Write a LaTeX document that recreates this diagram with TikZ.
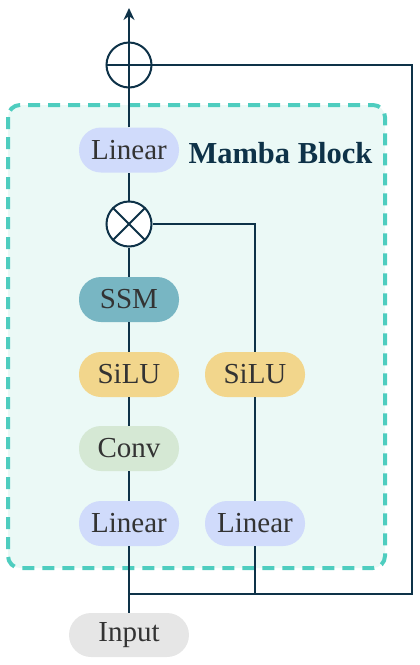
\documentclass[tikz,border=0pt]{standalone}
\usepackage{fontspec}
\setmainfont{Liberation Serif}
\usetikzlibrary{arrows.meta}
\definecolor{wire}{HTML}{0E3248}
\definecolor{dashc}{HTML}{4ECDBF}
\definecolor{boxfill}{HTML}{EBF9F6}
\definecolor{linfill}{HTML}{D0DBFB}
\definecolor{ssmfill}{HTML}{78B6C3}
\definecolor{silufill}{HTML}{F2D68C}
\definecolor{convfill}{HTML}{D5E8D4}
\definecolor{inpfill}{HTML}{E6E6E6}
\definecolor{txt}{HTML}{333333}
\begin{document}
\begin{tikzpicture}[x=1pt,y=-1pt,
  pill/.style={rectangle,rounded corners=22pt,minimum width=100pt,minimum height=45pt,inner sep=0pt,text=txt,font=\fontsize{29}{32}\selectfont},
  wirel/.style={draw=wire,line width=2pt},
  opcirc/.style={circle,draw=wire,line width=2pt,minimum size=45pt,inner sep=0pt,fill=white}]
\useasboundingbox (0,0) rectangle (420,665);
% block
\draw[dashc,line width=4pt,dash pattern=on 12pt off 8pt,fill=boxfill,rounded corners=12pt] (8,105) rectangle (385,568);
% nodes
\node[opcirc] (plus) at (129,65) {};
\node[opcirc] (times) at (129,224) {};
\node[pill,fill=linfill] (lintop) at (129,150) {Linear};
\node[font=\fontsize{30.5}{33}\selectfont\bfseries,text=wire,anchor=west] (title) at (185,153) {Mamba Block};
\node[pill,fill=ssmfill] (ssm) at (129,299.5) {SSM};
\node[pill,fill=silufill] (silul) at (129,374.5) {SiLU};
\node[pill,fill=silufill] (silur) at (255,374.5) {SiLU};
\node[pill,fill=convfill] (conv) at (129,448.5) {Conv};
\node[pill,fill=linfill] (linl) at (129,523.5) {Linear};
\node[pill,fill=linfill] (linr) at (255,523.5) {Linear};
\node[pill,fill=inpfill,minimum width=120pt,minimum height=44pt] (input) at (129,635) {Input};
\coordinate (top) at (129,8);
\coordinate (split) at (129,594);
% operator glyphs
\draw[wirel] (plus.west) -- (plus.east);
\draw[wirel] (plus.north) -- (plus.south);
\draw[wirel] (times.north west) -- (times.south east);
\draw[wirel] (times.north east) -- (times.south west);
% wires
\draw[wirel,-{Stealth[length=12pt,width=11pt]}] (plus.north) -- (top);
\draw[wirel] (lintop.north) -- (plus.south);
\draw[wirel] (times.north) -- (lintop.south);
\draw[wirel] (ssm.north) -- (times.south);
\draw[wirel] (silul.north) -- (ssm.south);
\draw[wirel] (conv.north) -- (silul.south);
\draw[wirel] (linl.north) -- (conv.south);
\draw[wirel] (input.north) -- (linl.south);
\draw[wirel] (silur.north) |- (times.east);
\draw[wirel] (linr.north) -- (silur.south);
\draw[wirel] (linr.south) -- (linr.south |- split);
\draw[wirel] (split) -- (412,594) |- (plus.east);
\end{tikzpicture}
\end{document}
